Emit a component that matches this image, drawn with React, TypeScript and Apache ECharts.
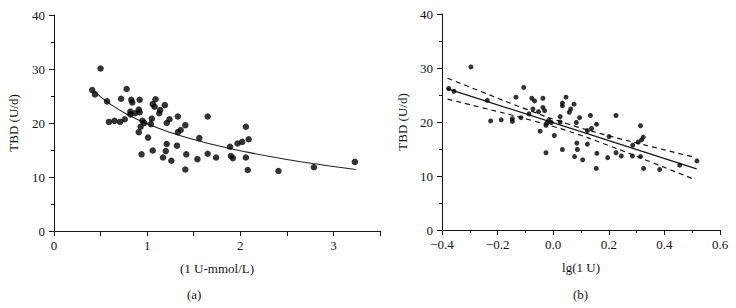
import React, { useEffect, useRef } from "react";
import * as echarts from "echarts";

// (a) TBD vs 1 U-mmol/L
const LEFT_POINTS: [number, number][] = [
  [0.41, 26.1], [0.44, 25.3], [0.5, 30.1], [0.57, 24.0], [0.59, 20.2], [0.65, 20.4],
  [0.71, 20.2], [0.72, 24.5], [0.76, 20.7], [0.78, 26.3], [0.83, 24.3], [0.84, 23.8],
  [0.82, 22.1], [0.82, 21.6], [0.87, 21.8], [0.92, 24.3], [0.91, 22.5], [0.92, 22.0],
  [0.91, 18.3], [0.93, 19.3], [0.95, 20.4], [0.97, 20.0], [0.94, 14.2], [1.01, 17.3],
  [1.04, 19.8], [1.05, 20.8], [1.06, 23.5], [1.08, 23.0], [1.09, 24.4], [1.06, 14.9],
  [1.13, 21.8], [1.14, 22.4], [1.19, 23.3], [1.21, 20.0], [1.24, 20.7], [1.21, 16.1],
  [1.2, 14.8], [1.17, 13.6], [1.26, 13.0], [1.32, 15.8], [1.33, 21.2], [1.33, 18.3],
  [1.36, 18.7], [1.41, 19.6], [1.42, 14.2], [1.41, 11.4], [1.54, 13.3], [1.56, 17.2],
  [1.65, 14.3], [1.65, 21.2], [1.74, 13.6], [1.89, 15.6], [1.9, 13.9], [1.92, 13.5],
  [1.97, 16.2], [2.02, 16.5], [2.06, 19.3], [2.06, 13.6], [2.09, 17.0], [2.08, 11.3],
  [2.41, 11.1], [2.79, 11.8], [3.23, 12.8],
];
const LEFT_CURVE_X = [0.44, 0.6, 0.8, 1.0, 1.25, 1.5, 1.75, 2.0, 2.5, 3.0, 3.24];
const LEFT_CURVE_Y = [25.78, 23.54, 21.47, 19.86, 18.25, 16.94, 15.83, 14.86, 13.25, 11.94, 11.39];

// (b) TBD vs lg(1 U)
const RIGHT_POINTS: [number, number][] = [
  [-0.376, 26.2], [-0.357, 25.7], [-0.296, 30.2], [-0.237, 24.0], [-0.225, 20.2],
  [-0.187, 20.4], [-0.147, 20.6], [-0.147, 20.1], [-0.134, 24.6], [-0.116, 20.8],
  [-0.106, 26.4], [-0.087, 21.5], [-0.077, 24.4], [-0.073, 22.4], [-0.067, 23.9],
  [-0.053, 21.9], [-0.047, 18.3], [-0.037, 24.4], [-0.037, 22.7], [-0.031, 22.1],
  [-0.026, 19.4], [-0.023, 19.8], [-0.026, 14.3], [-0.016, 20.3], [-0.007, 19.9],
  [0.004, 17.5], [0.025, 21.0], [0.025, 20.0], [0.033, 23.5], [0.033, 23.0],
  [0.033, 14.9], [0.046, 24.6], [0.058, 21.8], [0.063, 22.4], [0.075, 23.3],
  [0.077, 13.6], [0.083, 19.9], [0.085, 16.1], [0.087, 14.9], [0.095, 20.8],
  [0.106, 13.0], [0.123, 15.9], [0.123, 18.4], [0.134, 21.2], [0.138, 18.8],
  [0.156, 19.6], [0.157, 14.2], [0.155, 11.4], [0.196, 13.4], [0.201, 17.3],
  [0.226, 21.2], [0.226, 14.3], [0.245, 13.7], [0.285, 13.7], [0.286, 15.7],
  [0.306, 16.3], [0.314, 19.3], [0.314, 13.6], [0.318, 16.7], [0.324, 17.2],
  [0.325, 11.4], [0.383, 11.2], [0.455, 12.0], [0.517, 12.8],
];
const RIGHT_FIT_X = [-0.382, 0.516];
const RIGHT_FIT_Y = [26.2, 11.3];
const BAND_X = [-0.38, -0.25, -0.1, 0.05, 0.2, 0.35, 0.51];
const BAND_UPPER = [28.11, 25.44, 22.43, 19.68, 17.45, 15.48, 13.45];
const BAND_LOWER = [24.23, 22.58, 20.61, 18.38, 15.63, 12.62, 9.33];

const Y_TICKS = [0, 10, 20, 30, 40];
const LEFT_X_NAME = "(1 U-mmol/L)";
const RIGHT_X_NAME = "lg(1 U)";
const Y_NAME = "TBD (U/d)";

const FONT = "'Liberation Serif', 'DejaVu Serif', serif";
const INK = "#141414";

const zip = (xs: number[], ys: number[]) => xs.map((x, i) => [x, ys[i]]);

export default function App() {
  const ref = useRef<HTMLDivElement>(null);
  useEffect(() => {
    if (!ref.current) return;
    const chart = echarts.init(ref.current, undefined, { renderer: "svg" });
    const axisCommon = {
      axisLine: { show: true, onZero: false, lineStyle: { color: INK, width: 1 } },
      axisTick: { show: true, inside: false, length: 5, lineStyle: { color: INK, width: 1 } },
      splitLine: { show: false },
      axisLabel: { color: INK, fontFamily: FONT, fontSize: 13, margin: 8 },
      nameTextStyle: { color: INK, fontFamily: FONT, fontSize: 13 },
      nameLocation: "middle" as const,
    };
    const yAxisBase = {
      ...axisCommon,
      type: "value" as const,
      min: Y_TICKS[0],
      max: Y_TICKS[Y_TICKS.length - 1],
      interval: 10,
      minorTick: { show: true, splitNumber: 2, length: 3, lineStyle: { color: INK, width: 1 } },
      name: Y_NAME,
      nameGap: 34,
      axisLabel: { ...axisCommon.axisLabel, margin: 9 },
    };
    chart.setOption({
      animation: false,
      backgroundColor: "#ffffff",
      grid: [
        { left: 54, top: 15, width: 326, height: 216, containLabel: false, outerBoundsMode: "none" },
        { left: 442, top: 14, width: 278, height: 216, containLabel: false, outerBoundsMode: "none" },
      ],
      xAxis: [
        {
          ...axisCommon,
          type: "value",
          gridIndex: 0,
          min: 0,
          max: 3.5,
          interval: 0.5,
          name: LEFT_X_NAME,
          nameGap: 31,
          axisLabel: {
            ...axisCommon.axisLabel,
            formatter: (v: number) => (Math.abs(v - Math.round(v)) < 1e-6 ? String(Math.round(v)) : ""),
          },
        },
        {
          ...axisCommon,
          type: "value",
          gridIndex: 1,
          min: -0.4,
          max: 0.6,
          interval: 0.2,
          minorTick: { show: true, splitNumber: 2, length: 3, lineStyle: { color: INK, width: 1 } },
          name: RIGHT_X_NAME,
          nameGap: 31,
          axisLabel: {
            ...axisCommon.axisLabel,
            formatter: (v: number) =>
              Math.abs(v) < 1e-9 ? "0.0" : (v < 0 ? "\u2212" : "") + Math.abs(v).toFixed(1),
          },
        },
      ],
      yAxis: [
        { ...yAxisBase, gridIndex: 0 },
        { ...yAxisBase, gridIndex: 1, nameGap: 33 },
      ],
      series: [
        {
          type: "line",
          xAxisIndex: 0,
          yAxisIndex: 0,
          data: zip(LEFT_CURVE_X, LEFT_CURVE_Y),
          smooth: true,
          showSymbol: false,
          lineStyle: { color: "#222", width: 1.1 },
          z: 1,
        },
        {
          type: "scatter",
          xAxisIndex: 0,
          yAxisIndex: 0,
          data: LEFT_POINTS,
          symbol: "circle",
          symbolSize: 6.5,
          itemStyle: { color: "#000" },
          z: 3,
        },
        {
          type: "line",
          xAxisIndex: 1,
          yAxisIndex: 1,
          data: zip(RIGHT_FIT_X, RIGHT_FIT_Y),
          showSymbol: false,
          lineStyle: { color: "#111", width: 1.3 },
          z: 1,
        },
        {
          type: "line",
          xAxisIndex: 1,
          yAxisIndex: 1,
          data: zip(BAND_X, BAND_UPPER),
          smooth: true,
          showSymbol: false,
          lineStyle: { color: "#111", width: 1.2, type: [5, 4] },
          z: 1,
        },
        {
          type: "line",
          xAxisIndex: 1,
          yAxisIndex: 1,
          data: zip(BAND_X, BAND_LOWER),
          smooth: true,
          showSymbol: false,
          lineStyle: { color: "#111", width: 1.2, type: [5, 4] },
          z: 1,
        },
        {
          type: "scatter",
          xAxisIndex: 1,
          yAxisIndex: 1,
          data: RIGHT_POINTS,
          symbol: "circle",
          symbolSize: 5,
          itemStyle: { color: "#000" },
          z: 3,
        },
      ],
      graphic: [
        {
          type: "text",
          left: 187,
          top: 288,
          style: { text: "(a)", font: `13px ${FONT}`, fill: INK },
        },
        {
          type: "text",
          left: 573,
          top: 288,
          style: { text: "(b)", font: `13px ${FONT}`, fill: INK },
        },
      ],
    });
    return () => chart.dispose();
  }, []);
  return (
    <div
      ref={ref}
      style={{ position: "fixed", left: 0, top: 0, width: 736, height: 308, background: "#fff" }}
    />
  );
}
